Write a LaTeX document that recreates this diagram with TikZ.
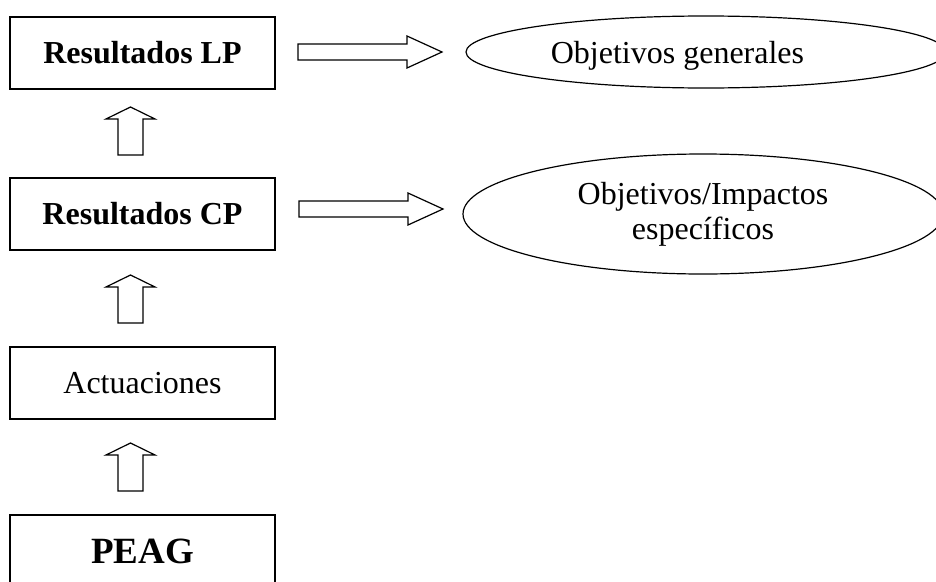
\documentclass[tikz,border=0pt]{standalone}
\usepackage{fontspec}
\setmainfont{Liberation Serif}
\usepackage{tikz}
\usetikzlibrary{positioning,shapes.geometric}

\begin{document}
\begin{tikzpicture}[y=-1pt,x=1pt,line width=1.2pt,
	box/.style={draw,minimum width=265pt,minimum height=72pt,inner sep=0pt,font=\fontsize{32}{35}\selectfont},
	goal/.style={draw,ellipse,minimum width=480pt,inner sep=0pt,align=center,font=\fontsize{32}{35}\selectfont}]
	\newcommand\UpArrow{+(0,0) -- +(24.5,12) -- +(12.5,12) -- +(12.5,48) -- +(-12.5,48) -- +(-12.5,12) -- +(-24.5,12) -- cycle}
	\newcommand\RightArrow{+(0,0) -- +(-35,-16) -- +(-35,-8) -- +(-144,-8) -- +(-144,8) -- +(-35,8) -- +(-35,16) -- cycle}

	\clip (0,0) rectangle (936,581);

	% left column
	\node[box] (lp) at (142.5,53) {\bfseries Resultados LP};
	\node[box] (cp) at (142.5,214) {\bfseries Resultados CP};
	\node[box] (act) at (142.5,383) {Actuaciones};
	\node[box,font=\fontsize{37}{40}\selectfont] (peag) at (142.5,551) {\bfseries PEAG};

	% objectives
	\node[goal,minimum height=72pt,text depth=0pt] (gen) at (706,52) {\hspace*{-57pt}Objetivos generales};
	\node[goal,minimum height=120pt] (spec) at (703,214) {Objetivos/Impactos\\específicos};

	% block arrows
	\draw (130.5,107) \UpArrow;
	\draw (130.5,275) \UpArrow;
	\draw (130.5,443) \UpArrow;
	\draw (442,52) \RightArrow;
	\draw (443,209) \RightArrow;
\end{tikzpicture}
\end{document}
